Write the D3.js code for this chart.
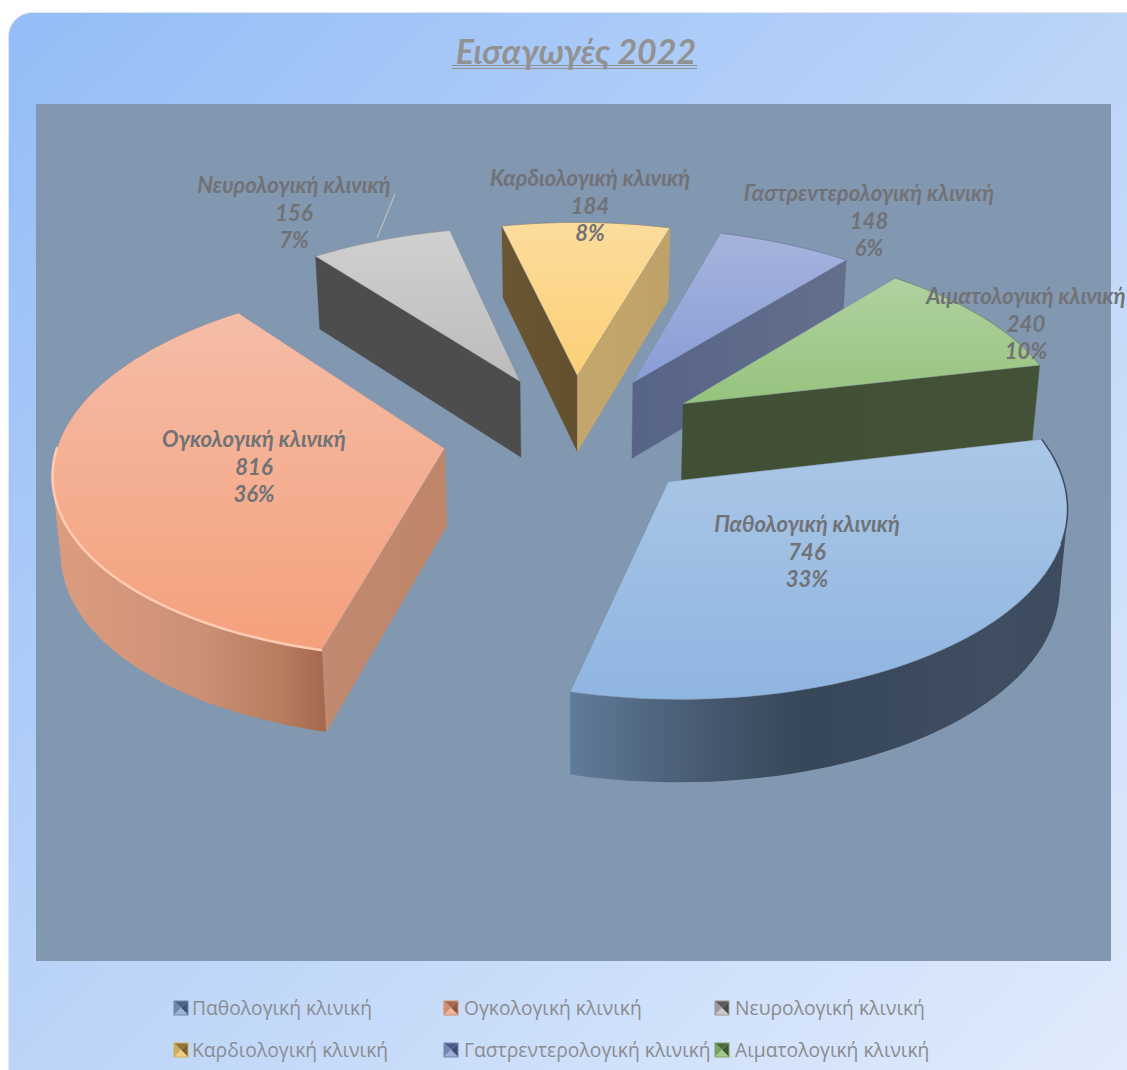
<!DOCTYPE html>
<html><head><meta charset="utf-8">
<script src="https://cdn.jsdelivr.net/npm/d3@7/dist/d3.min.js"></script>
<style>html,body{margin:0;padding:0;background:#fff;overflow:hidden}svg{display:block}</style>
</head><body><svg id="c" width="1127" height="1070"></svg>
<script>
const title = "Εισαγωγές 2022";
const categories = ["Παθολογική κλινική","Ογκολογική κλινική","Νευρολογική κλινική","Καρδιολογική κλινική","Γαστρεντερολογική κλινική","Αιματολογική κλινική"];
const values = [746,816,156,184,148,240];
const percents = ["33%","36%","7%","8%","6%","10%"];

// styles
const topStops = [["#abc7e6","#8fb5e1"],["#f5bda7","#f4a07c"],["#d0d0d0","#bcbcbc"],["#fddc9c","#fbcf76"],["#a6b3dd","#899dd6"],["#b0d1a0","#97c37d"]];
const sideStart = [["#5f7a96","#5f7a96"],["#c08a70","#bf8569"],["#4d4d4d","#4d4d4d"],["#6a5632","#62502e"],["#586587","#586587"],["#415035","#415035"]];
const sideEnd = [["#5f7a96","#5f7a96"],["#bf8569","#bf8569"],["#777","#777"],["#c4a76c","#bfa268"],["#566487","#656f8c"],["#415035","#435137"]];
const arcStops = [
 [[0,"#607c9a"],[0.27,"#47596f"],[0.47,"#36475a"],[0.85,"#3f4e60"],[1,"#3c4c5e"]],
 [[0,"#dc9d7f"],[0.55,"#cc9075"],[0.85,"#b67a5d"],[1,"#a5684d"]]];
const rimColors = ["#3f5066","#ffcbb3","#9a9a9a","#8e8a78","#6f7a98","#6f8064"];
const rimWidths = [1.6,2.6,.6,.6,.6,.6];
const rimExtent = [0.27,0.6,1,1,1,1];
const markerShades = [["#4b6483","#3f5674","#6d8aac","#9ab6d6"],["#a9684e","#8f5740","#d08f72","#f0b59b"],["#5a5a5a","#4b4b4b","#9a9a9a","#c8c8c8"],["#8f7438","#7a6230","#d0ac5e","#f4cf82"],["#4b5a86","#3f4d74","#7686b4","#9dabd8"],["#4c6a3c","#3f5a30","#7ea066","#a4c88c"]];

// layout
const cx=574,cy=436,R=385,E=131,k=0.475,p=0.11,Hw=77,conv=0.016,segs=64;
const sliceOrder=[2,3,4,5,1,0];
const labelAnchors=[[807,525],[254,440],[294,186],[590,179],[869,194],[1026,297]];
const legendMarks=[174,444,715], legendText=[192,464,735], legendRows=[1008,1050];

const svg=d3.select("#c");
const defs=svg.append("defs");
function grad(id,attrs,stops){const g=defs.append("linearGradient").attr("id",id);
 Object.entries(attrs).forEach(([a,v])=>g.attr(a,v));
 stops.forEach(s=>g.append("stop").attr("offset",s[0]).attr("stop-color",s[1]));}
grad("bg",{x1:0,y1:0,x2:1,y2:1},[[0,"#93bdf7"],[0.5,"#bdd5f8"],[1,"#e3edfc"]]);
defs.append("filter").attr("id","soft").append("feGaussianBlur").attr("stdDeviation",0.7);

svg.append("rect").attr("x",8.5).attr("y",12.5).attr("width",1160).attr("height",1100).attr("rx",24)
 .attr("fill","url(#bg)").attr("stroke","#dfe7f2").attr("stroke-width",1);
svg.append("rect").attr("x",36).attr("y",104).attr("width",1075).attr("height",857).attr("fill","#8297b0");

// title
const titleFont="Lato,'Open Sans','Noto Sans',sans-serif";
svg.append("text").attr("x",576).attr("y",64).attr("text-anchor","middle")
 .attr("font-family",titleFont).attr("font-weight",700).attr("font-style","italic").attr("font-size",34)
 .attr("fill","#929292").text(title);
[65.5,68.5].forEach(y=>svg.append("line").attr("x1",452).attr("x2",697).attr("y1",y).attr("y2",y).attr("stroke","#929292").attr("stroke-width",1.2));

// pie through projection
const start=77*Math.PI/180;
const arcs=d3.pie().sort(null).startAngle(start).endAngle(start+2*Math.PI)(values);
function project(X,Y,z){const s=1/(1-p*Y/R);
 return [cx+X*s*(1-z*conv), cy+k*Y*s+z*Hw*Math.sqrt(s)];}
const line=d3.line();
function slicePts(a){
 const mid=(a.startAngle+a.endAngle)/2, ox=E*Math.sin(mid), oy=-E*Math.cos(mid);
 const th=d3.scaleLinear().domain([0,1]).range([a.startAngle,a.endAngle]);
 const rim=d3.range(0,segs+1).map(t=>[ox+R*Math.sin(th(t/segs)),oy-R*Math.cos(th(t/segs))]);
 return {apex:[ox,oy],rim};
}
const g=svg.append("g");
function wall(pts,stops,id){
 grad(id,{x1:0,y1:0,x2:1,y2:0},[[0,stops[0]],[1,stops[1]]]);
 g.append("path").attr("d",line(pts)+"Z").attr("fill",`url(#${id})`).attr("stroke",stops[0]).attr("stroke-width",.3);
}
sliceOrder.forEach(i=>{
 const a=arcs[i],{apex,rim}=slicePts(a);
 const top=rim.map(q=>project(q[0],q[1],0)), bot=rim.map(q=>project(q[0],q[1],1));
 const A0=project(apex[0],apex[1],0),A1=project(apex[0],apex[1],1);
 const n=rim.length-1;
 const wS=[A0,top[0],bot[0],A1], wE=[A0,top[n],bot[n],A1];
 if(d3.polygonArea(wS)>0) wall(wS,sideStart[i],"ws"+i);
 if(d3.polygonArea(wE)<0) wall(wE,sideEnd[i],"we"+i);
 // outer curved wall: strips with one winding merged into one path, so there are no seams
 if(arcStops[i]){
  const id="arc"+i, xs=top.concat(bot).map(q=>q[0]);
  grad(id,{gradientUnits:"userSpaceOnUse",x1:d3.min(xs),y1:0,x2:d3.max(xs),y2:0},arcStops[i]);
  const d=d3.range(n).map(j=>{
    const q=[top[j],top[j+1],bot[j+1],bot[j]];
    if(d3.polygonArea(q)<0) q.reverse();
    return line(q)+"Z";
  }).join("");
  g.append("path").attr("d",d).attr("fill",`url(#${id})`).attr("fill-rule","nonzero");
 }
 // top
 const tid="top"+i; grad(tid,{x1:0,y1:0,x2:0,y2:1},[[0,topStops[i][0]],[1,topStops[i][1]]]);
 g.append("path").attr("d",line([A0].concat(top))+"Z").attr("fill",`url(#${tid})`).attr("stroke","#76859a").attr("stroke-width",.4).attr("stroke-linejoin","round");
 g.append("path").attr("d",line(top.slice(0,Math.round(rimExtent[i]*n)+1))).attr("fill","none").attr("stroke",rimColors[i]).attr("stroke-width",rimWidths[i]).attr("filter",i<2?"url(#soft)":null);
});

// leader
svg.append("line").attr("x1",395).attr("y1",194).attr("x2",377).attr("y2",238).attr("stroke","#bdbdbd").attr("stroke-width",1.2);

// data labels
const bodyFont="Lato,'Open Sans','Noto Sans',sans-serif";
categories.forEach((c,i)=>{
 const t=svg.append("text").attr("text-anchor","middle").attr("font-family",bodyFont).attr("font-weight",700)
  .attr("font-style","italic").attr("font-size",22).attr("fill","#707276");
 [c,values[i],percents[i]].forEach((s,j)=>t.append("tspan").attr("x",labelAnchors[i][0]).attr("y",labelAnchors[i][1]+7+j*27.5).text(s));
});

// legend
categories.forEach((c,i)=>{
 const col=i%3,row=Math.floor(i/3),x=legendMarks[col],y=legendRows[row];
 const l=svg.append("g").attr("transform",`translate(${x},${y})`);
 const [sT,sR,sL,sB]=markerShades[i],h=7,w=14;
 [[sT,[[0,-h],[w,-h],[h,0]]],[sR,[[w,-h],[w,h],[h,0]]],[sL,[[0,-h],[0,h],[h,0]]],[sB,[[0,h],[w,h],[h,0]]]]
  .forEach(([f,pts])=>l.append("path").attr("d",line(pts)+"Z").attr("fill",f));
 l.append("rect").attr("x",0).attr("y",-h).attr("width",w).attr("height",2*h).attr("fill","none").attr("stroke",sL).attr("stroke-width",1);
 svg.append("text").attr("x",legendText[col]).attr("y",y+7).attr("font-family","'Open Sans','Noto Sans',sans-serif").attr("font-size",19.3).attr("fill","#8a8c90").text(c);
});
</script></body></html>
